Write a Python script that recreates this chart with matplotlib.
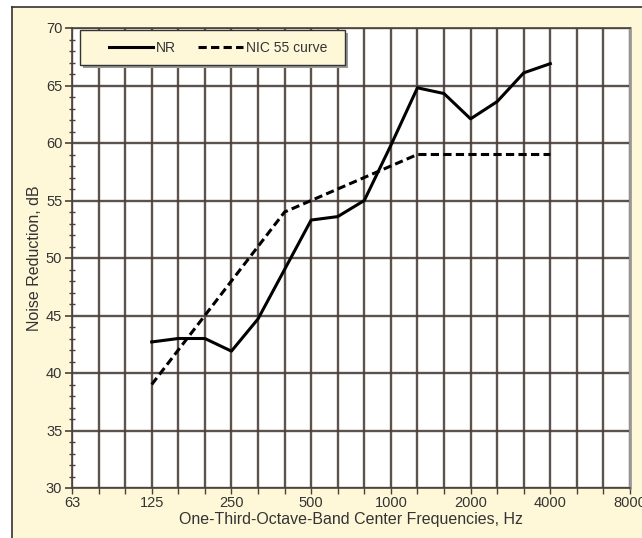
import matplotlib.pyplot as plt
from matplotlib.lines import Line2D
from matplotlib.patches import Rectangle

plt.rcParams['font.family'] = ['Liberation Sans', 'DejaVu Sans']

# one-third-octave bands shown on the x axis
bands = [63, 80, 100, 125, 160, 200, 250, 315, 400, 500, 630, 800,
         1000, 1250, 1600, 2000, 2500, 3150, 4000, 5000, 6300, 8000]
labelled = [63, 125, 250, 500, 1000, 2000, 4000, 8000]

freqs = [125, 160, 200, 250, 315, 400, 500, 630, 800,
         1000, 1250, 1600, 2000, 2500, 3150, 4000]
nr = [42.7, 43.0, 43.0, 41.9, 44.7, 49.0, 53.3, 53.6, 55.0,
      59.8, 64.8, 64.3, 62.1, 63.6, 66.1, 66.9]
nic55 = [39, 42, 45, 48, 51, 54, 55, 56, 57, 58, 59, 59, 59, 59, 59, 59]

cream = '#fff8d8'
gridc = '#4a403c'
textc = '#333333'

fig = plt.figure(figsize=(6.42, 5.38), dpi=100, facecolor='white')
# cream panel with a dark border on top and left
fig.add_artist(Rectangle((12 / 642, 0), 1, 531 / 538, transform=fig.transFigure,
                         facecolor=cream, edgecolor='none', zorder=-2))
fig.add_artist(Line2D([12 / 642, 1], [531 / 538, 531 / 538], color=textc, lw=1.2, zorder=-1))
fig.add_artist(Line2D([12 / 642, 12 / 642], [0, 531 / 538], color=textc, lw=1.2, zorder=-1))

ax = fig.add_axes([72 / 642, 50 / 538, 558 / 642, 460 / 538])
ax.set_zorder(1)
ax.set_facecolor('white')

x_nr = [bands.index(f) for f in freqs]
ax.plot(x_nr, nr, color='black', lw=2.2, label='NR', zorder=3)
ax.plot(x_nr, nic55, color='black', lw=2.2, ls=(0, (2.7, 1.4)), label='NIC 55 curve', zorder=3)

ax.set_xlim(0, len(bands) - 1)
ax.set_ylim(30, 70)
ax.set_xticks(range(len(bands)))
ax.set_xticklabels([str(b) if b in labelled else '' for b in bands])
ax.set_yticks(range(30, 71, 5))
ax.set_yticks(range(30, 71), minor=True)

ax.grid(True, which='major', color=gridc, lw=1.7, alpha=0.9, zorder=1)
ax.set_axisbelow(True)

ax.tick_params(axis='x', direction='out', length=4, width=1, color=gridc,
               labelsize=10.5, labelcolor=textc, pad=2)
ax.tick_params(axis='y', which='major', direction='out', length=5, width=1.2,
               color=gridc, labelsize=10.5, labelcolor=textc, pad=2)
ax.tick_params(axis='y', which='minor', direction='inout', length=5, width=1, color=gridc)

for side in ['left', 'bottom', 'top']:
    ax.spines[side].set_color(gridc)
    ax.spines[side].set_linewidth(1.2)
ax.spines['right'].set_color('#999999')
ax.spines['right'].set_linewidth(2)

ax.set_xlabel('One-Third-Octave-Band Center Frequencies, Hz', fontsize=11.5,
              color=textc, labelpad=1)
ax.set_ylabel('Noise Reduction, dB', fontsize=11.5, color=textc, labelpad=3)

# legend box with shadow, drawn behind a frameless legend
bx0, by0, bw, bh = 8 / 558, (488 - 65) / 460, 265 / 558, 35 / 460
ax.add_patch(Rectangle((bx0 + 3 / 558, by0 - 3 / 460), bw, bh, transform=ax.transAxes,
                       facecolor='#9a9a9a', edgecolor='none', zorder=4, clip_on=False))
ax.add_patch(Rectangle((bx0, by0), bw, bh, transform=ax.transAxes,
                       facecolor=cream, edgecolor=textc, lw=1, zorder=5, clip_on=False))
leg = ax.legend(loc='center left', bbox_to_anchor=(37 / 558, by0 + bh / 2), ncol=2,
                borderaxespad=0, borderpad=0, frameon=False,
                handlelength=3.2, handletextpad=0.2, columnspacing=1.6, fontsize=10)
leg.set_zorder(6)
for t in leg.get_texts():
    t.set_color(textc)

fig.savefig('out.png', dpi=100, facecolor=fig.get_facecolor())
